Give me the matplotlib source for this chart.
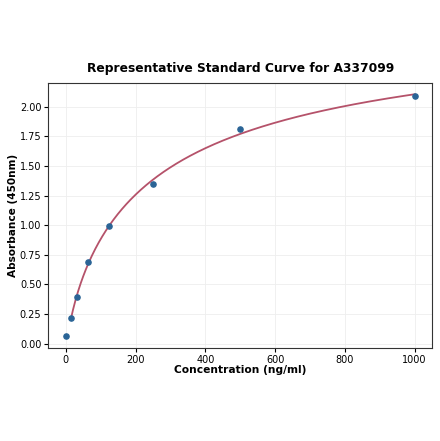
import matplotlib
matplotlib.use("Agg")
import matplotlib.pyplot as plt
import numpy as np

# standard concentrations (ng/ml) and measured absorbance
conc = [0, 15.6, 31.25, 62.5, 125, 250, 500, 1000]
absorb = [0.067, 0.22, 0.395, 0.69, 0.99, 1.35, 1.81, 2.09]


def four_pl(x, p):
    a, b, c, d = p
    return d + (a - d) / (1.0 + (x / c) ** b)


# simple Levenberg-Marquardt fit of a 4PL curve to the nonzero standards
def fit_4pl(x, y):
    p = np.array([0.0, 1.0, 300.0, 3.0])
    lam = 1e-3
    for _ in range(500):
        r = y - four_pl(x, p)
        J = np.zeros((len(x), 4))
        for k in range(4):
            dp = np.zeros(4)
            dp[k] = 1e-6 * max(abs(p[k]), 1.0)
            J[:, k] = (four_pl(x, p + dp) - four_pl(x, p)) / dp[k]
        A = J.T @ J
        g = J.T @ r
        step = np.linalg.solve(A + lam * np.diag(np.diag(A)), g)
        pn = p + step
        if pn[2] > 0 and np.sum((y - four_pl(x, pn)) ** 2) < np.sum(r ** 2):
            p = pn
            lam *= 0.3
        else:
            lam *= 10
    return p


x = np.array(conc[1:], dtype=float)
y = np.array(absorb[1:], dtype=float)
params = fit_4pl(x, y)
xs = np.linspace(x[0], x[-1], 400)

fig, ax = plt.subplots(figsize=(4.4, 4.41), dpi=100)
fig.subplots_adjust(left=0.11, right=0.982, top=0.812, bottom=0.21)

ax.plot(xs, four_pl(xs, params), color="#b5526a", lw=1.3, zorder=2)
ax.scatter(conc, absorb, color="#2a6496", s=14, zorder=3)

ax.set_title("Representative Standard Curve for A337099", fontsize=8.8,
             fontweight="bold", pad=8)
ax.set_xlabel("Concentration (ng/ml)", fontsize=7.7, fontweight="bold",
              labelpad=0)
ax.set_ylabel("Absorbance (450nm)", fontsize=7.6, fontweight="bold",
              labelpad=1)
ax.set_xlim(-50, 1050)
ax.set_ylim(-0.04, 2.2)
ax.set_xticks([0, 200, 400, 600, 800, 1000])
ax.set_yticks(np.arange(0, 2.01, 0.25))
ax.yaxis.set_major_formatter(matplotlib.ticker.FormatStrFormatter("%.2f"))
ax.tick_params(labelsize=7, length=3, pad=2)
ax.grid(True, color="#eeeeee", lw=0.6)
for s in ax.spines.values():
    s.set_color("#333333")

plt.savefig("out.png", dpi=100)
